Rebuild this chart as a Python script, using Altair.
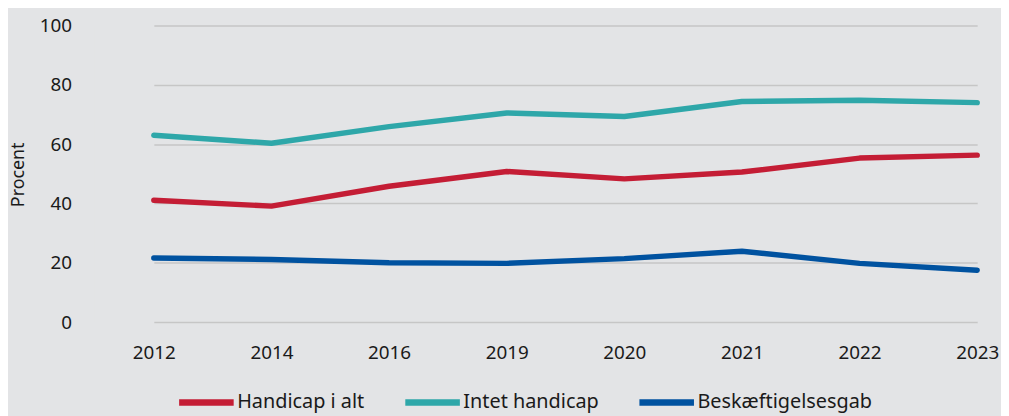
import altair as alt
import pandas as pd

years = ["2012", "2014", "2016", "2019", "2020", "2021", "2022", "2023"]
handicap_i_alt = [41.1, 39.1, 45.8, 50.8, 48.3, 50.6, 55.3, 56.3]
intet_handicap = [63.0, 60.3, 65.9, 70.5, 69.3, 74.4, 74.8, 74.0]
beskaeftigelsesgab = [21.6, 21.1, 20.0, 19.8, 21.4, 23.9, 19.8, 17.5]

series_names = ["Handicap i alt", "Intet handicap", "Beskæftigelsesgab"]
series_colors = ["#c41d35", "#2ea7a9", "#0052a0"]

rows = []
for name, vals in zip(series_names, [handicap_i_alt, intet_handicap, beskaeftigelsesgab]):
    for y, v in zip(years, vals):
        rows.append({"År": y, "Procent": v, "Serie": name})
df = pd.DataFrame(rows)

FONT = "Noto Sans"

chart = alt.Chart(df).mark_line(strokeWidth=5.5, strokeCap="round", strokeJoin="round").encode(
    x=alt.X("År:O", sort=years,
            scale=alt.Scale(type="point", range=[60, 890], padding=0),
            axis=alt.Axis(title=None, labelAngle=0, labelFontSize=19, labelPadding=22,
                          labelColor="#1a1a1a", labelFont=FONT, domain=False, ticks=False, grid=False)),
    y=alt.Y("Procent:Q", scale=alt.Scale(domain=[0, 100], nice=False),
            axis=alt.Axis(title="Procent", values=[0, 20, 40, 60, 80, 100], labelFontSize=19,
                          labelPadding=23, labelColor="#1a1a1a", labelFont=FONT,
                          titleFont=FONT, titleFontSize=18, titleFontWeight="normal",
                          titleColor="#1a1a1a", titleX=-76, titleY=150, titleAngle=270,
                          titleAlign="center", titleBaseline="middle",
                          domain=False, ticks=False, grid=True, gridColor="#c6c6c6",
                          gridWidth=1.5)),
    color=alt.Color("Serie:N",
                    scale=alt.Scale(domain=series_names, range=series_colors),
                    legend=alt.Legend(title=None, orient="none", direction="horizontal",
                                      legendX=82, legendY=349, symbolType="stroke",
                                      symbolStrokeWidth=6.5, symbolSize=3025,
                                      labelFontSize=20, labelFont=FONT, labelColor="#1a1a1a",
                                      labelOffset=0, labelLimit=0, columnPadding=27, padding=0)),
).properties(
    width=914, height=299,
    background="#e3e4e6",
    padding={"left": 87, "top": 16, "right": 0, "bottom": 93},
    autosize=alt.AutoSizeParams(type="none"),
).configure_view(stroke=None, fill="#e3e4e6")

chart.save("out.html", embed_options={"renderer": "svg", "actions": False})
